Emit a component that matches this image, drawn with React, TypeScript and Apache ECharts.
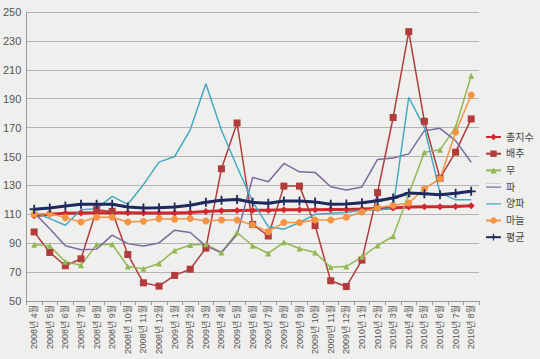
import React, { useEffect, useRef } from "react";
import * as echarts from "echarts";

const categories = [
  "2008년 4월", "2008년 5월", "2008년 6월", "2008년 7월", "2008년 8월", "2008년 9월",
  "2008년 10월", "2008년 11월", "2008년 12월",
  "2009년 1월", "2009년 2월", "2009년 3월", "2009년 4월", "2009년 5월", "2009년 6월",
  "2009년 7월", "2009년 8월", "2009년 9월", "2009년 10월", "2009년 11월", "2009년 12월",
  "2010년 1월", "2010년 2월", "2010년 3월", "2010년 4월", "2010년 5월", "2010년 6월",
  "2010년 7월", "2010년 8월",
];

const totalIndex = [109, 110, 110.7, 110.9, 111.1, 111.1, 111, 110.9, 110.9, 110.9, 111.2, 112, 112.5, 112.7, 112.8, 112.8, 113.1, 113.2, 113.2, 113.3, 113.4, 113.7, 114.1, 114.4, 115, 115.3, 115.3, 115.4, 116];
const cabbage = [97.8, 83.6, 74.4, 79.2, 113.2, 112, 82.2, 62.6, 60.3, 67.7, 72, 86.6, 141.5, 173.2, 103, 95, 129.5, 129.5, 102.2, 64, 60, 78.3, 125, 177, 236.4, 174.4, 135, 153, 176];
const radish = [88.9, 88.2, 77.1, 74.8, 88.9, 89.3, 73.9, 72.3, 76, 85, 88.7, 89.3, 83.6, 97.4, 88.2, 82.9, 90.7, 86.3, 83.6, 73.4, 73.8, 80.6, 88.4, 94.8, 124, 153, 154.6, 170.2, 205.9];
const greenOnion = [111, 100, 88.2, 85.4, 85.9, 95.6, 89.7, 88, 90.2, 99, 97.4, 88, 83.5, 96, 135.5, 132.5, 145.2, 139.4, 139, 129.1, 126.8, 128.9, 148, 148.9, 151.8, 167.9, 169.5, 161, 146];
const onion = [111.6, 107, 102.4, 113.2, 113.9, 122.4, 116.9, 130.5, 146.1, 150, 168.5, 200.3, 168.2, 142.9, 118.7, 101.5, 99.7, 104.3, 110, 110.7, 111.3, 112.8, 112.8, 114.4, 191, 170, 125, 120, 120];
const garlic = [110, 110.5, 107.7, 104.7, 107.9, 107.9, 104.7, 105.2, 107, 106.6, 107.1, 105.4, 106.1, 106.1, 102.6, 98, 104.3, 104.3, 106.1, 106.1, 107.9, 111.6, 114.6, 116.2, 117.8, 127.7, 134.6, 166.8, 192.5];
const average = [113.5, 114.4, 115.7, 116.9, 116.9, 116.9, 115, 114.4, 114.6, 115, 116.3, 118.3, 119.7, 120.3, 118.3, 117.6, 119.2, 119.2, 118.5, 117, 117.2, 118, 119.4, 121.3, 124.7, 124.3, 123.6, 124.5, 125.9];

const seriesNames = ["총지수", "배추", "무", "파", "양파", "마늘", "평균"];

const FONT = "'Liberation Sans', Arial, 'Noto Sans CJK KR', sans-serif";
const PLUS = "path://M4,0H6V4H10V6H6V10H4V6H0V4H4Z";
const LINE_ICON = "path://M0,0H20V0.05H0Z M0,4.2H20V5.8H0Z M0,9.95H20V10H0Z";

export default function App() {
  const ref = useRef<HTMLDivElement>(null);
  useEffect(() => {
    if (!ref.current) return;
    const chart = echarts.init(ref.current, undefined, { renderer: "svg" });
    const mk = (name: string, data: number[], color: string, width: number, symbol: string, size: number) => ({
      name,
      type: "line",
      data,
      symbol,
      symbolSize: size,
      showSymbol: symbol !== "none",
      lineStyle: { color, width },
      itemStyle: { color, borderWidth: 0 },
      emphasis: { disabled: true },
    });
    chart.setOption({
      animation: false,
      backgroundColor: "#efefed",
      textStyle: { fontFamily: FONT },
      grid: { left: 26, right: 61, top: 12, bottom: 58, containLabel: false },
      legend: {
        orient: "vertical",
        left: 485,
        top: 132,
        padding: 0,
        itemWidth: 15,
        itemHeight: 8,
        itemGap: 6.7,
        data: seriesNames.map((n) => (n === "파" || n === "양파" ? { name: n, icon: LINE_ICON } : { name: n })),
        textStyle: { fontSize: 10, color: "#444", fontFamily: FONT },
      },
      xAxis: {
        type: "category",
        data: categories,
        boundaryGap: true,
        axisLine: { lineStyle: { color: "#9a9a9a", width: 1 } },
        axisTick: { show: true, length: 4, lineStyle: { color: "#9a9a9a" } },
        axisLabel: { rotate: 90, interval: 0, fontSize: 9, color: "#555", margin: 4, fontFamily: FONT },
      },
      yAxis: {
        type: "value",
        min: 50,
        max: 250,
        interval: 20,
        axisLine: { show: true, lineStyle: { color: "#9a9a9a", width: 1 } },
        axisTick: { show: false },
        axisLabel: { fontSize: 11, color: "#555", margin: 5, fontFamily: FONT },
        splitLine: { show: true, lineStyle: { color: "#b3b3b3", width: 1 } },
      },
      series: [
        mk("총지수", totalIndex, "#d0282e", 3, "diamond", 7),
        mk("배추", cabbage, "#b23c3c", 1.5, "rect", 7),
        mk("무", radish, "#93b853", 1.5, "triangle", 6),
        mk("파", greenOnion, "#7d6a9f", 1.5, "none", 0),
        mk("양파", onion, "#46a9c2", 1.5, "none", 0),
        mk("마늘", garlic, "#f39445", 1.5, "circle", 7),
        mk("평균", average, "#1f2a5e", 3, PLUS, 9),
      ],
    });
    return () => chart.dispose();
  }, []);
  return <div ref={ref} style={{ width: 540, height: 359, position: "absolute", left: 0, top: 0 }} />;
}
